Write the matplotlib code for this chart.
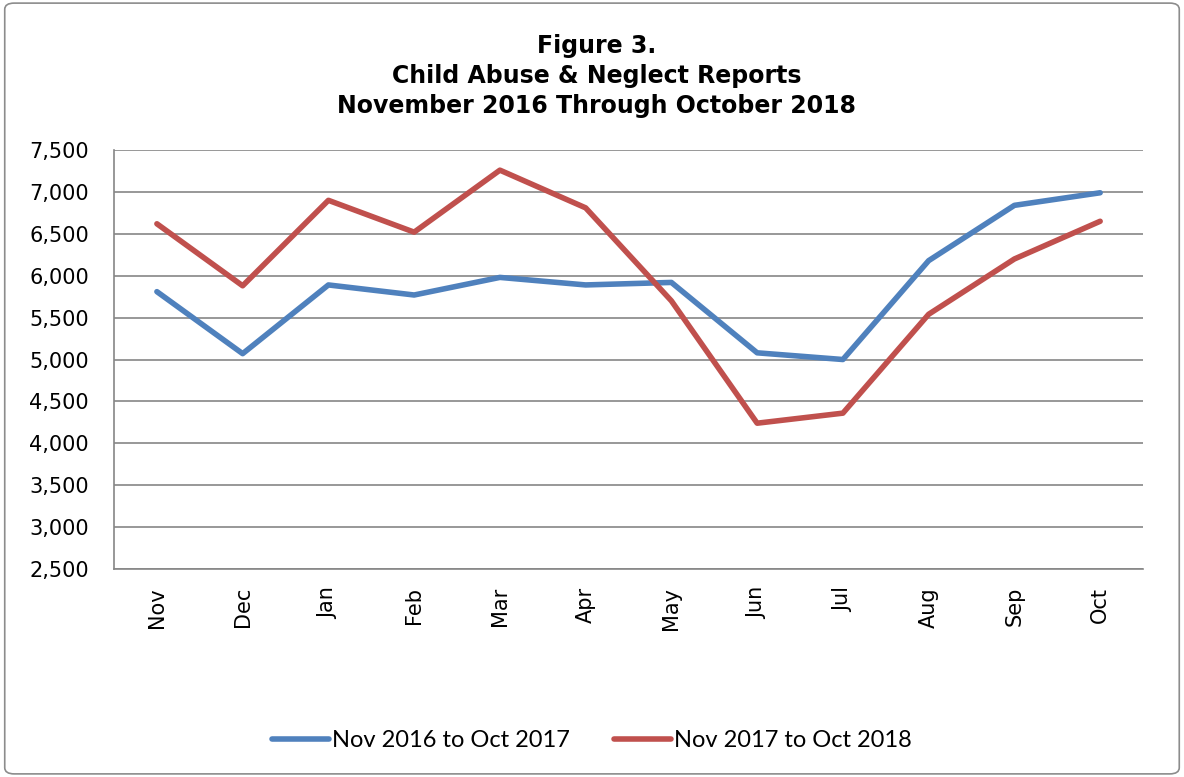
import matplotlib
matplotlib.use("Agg")
import matplotlib.pyplot as plt
from matplotlib.patches import FancyBboxPatch
from matplotlib.ticker import FuncFormatter

months = ['Nov', 'Dec', 'Jan', 'Feb', 'Mar', 'Apr', 'May', 'Jun', 'Jul', 'Aug', 'Sep', 'Oct']
reports_2016_17 = [5810, 5070, 5890, 5770, 5980, 5890, 5920, 5080, 5000, 6180, 6840, 6990]
reports_2017_18 = [6620, 5880, 6900, 6520, 7260, 6810, 5700, 4240, 4360, 5540, 6200, 6650]
series_labels = ['Nov 2016 to Oct 2017', 'Nov 2017 to Oct 2018']

fig = plt.figure(figsize=(11.84, 7.77), dpi=100)
ax = fig.add_axes([0.0963, 0.2677, 0.8691, 0.5392])

# outer chart border
fig.patches.append(FancyBboxPatch((0.004, 0.004), 0.992, 0.992,
                                  boxstyle="round,pad=0,rounding_size=0.008",
                                  transform=fig.transFigure, fill=False,
                                  edgecolor='#8c8c8c', linewidth=1.2))

x = range(len(months))
ax.plot(x, reports_2016_17, color='#4F81BD', linewidth=4, solid_capstyle='round',
        label=series_labels[0])
ax.plot(x, reports_2017_18, color='#C0504D', linewidth=4, solid_capstyle='round',
        label=series_labels[1])

ax.set_xlim(-0.5, len(months) - 0.5)
ax.set_ylim(2500, 7500)
ax.set_yticks(range(2500, 7501, 500))
ax.yaxis.set_major_formatter(FuncFormatter(lambda v, p: f'{int(v):,}'))
ax.set_xticks(list(x))
ax.set_xticklabels(months, rotation=90)
ax.grid(axis='y', color='#868686', linewidth=1.2)
ax.set_axisbelow(True)
for s in ['top', 'right']:
    ax.spines[s].set_visible(False)
for s in ['left', 'bottom']:
    ax.spines[s].set_color('#868686')
    ax.spines[s].set_linewidth(1.2)
ax.tick_params(axis='both', length=0, labelsize=15)
ax.tick_params(axis='x', pad=13)
ax.tick_params(axis='y', pad=18)

fig.text(0.504, 0.902, 'Figure 3.\nChild Abuse & Neglect Reports\nNovember 2016 Through October 2018',
         ha='center', va='center', fontsize=17, fontweight='bold', linespacing=1.3)

leg = fig.legend(loc='center', bbox_to_anchor=(0.5, 0.047), ncol=2, frameon=False,
                 prop={'family': 'Lato', 'size': 17}, handlelength=2.4,
                 handletextpad=0.15, columnspacing=1.85)

fig.savefig('out.png', dpi=100)
